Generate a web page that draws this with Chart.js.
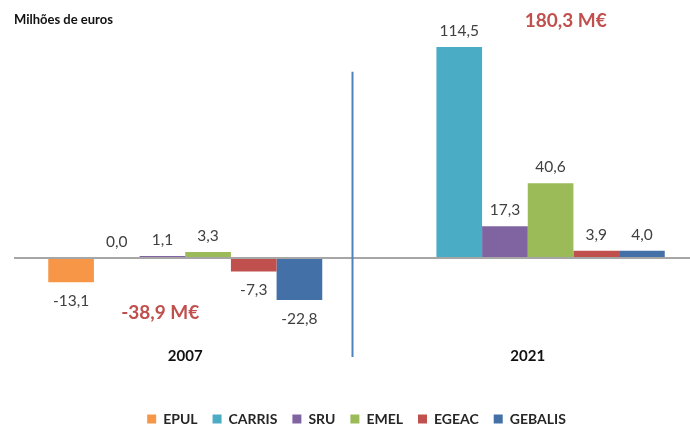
<!DOCTYPE html>
<html>
<head>
<meta charset="utf-8">
<script src="https://cdn.jsdelivr.net/npm/chart.js@4/dist/chart.umd.min.js"></script>
<style>
    html, body { margin: 0; padding: 0; background: #fff; overflow: hidden; }
</style>
</head>
<body>
<canvas id="resultChart" width="700" height="430"></canvas>
<script>
// Data (milhões de euros)
const years = ['2007', '2021'];
const companies = ['EPUL', 'CARRIS', 'SRU', 'EMEL', 'EGEAC', 'GEBALIS'];
const epul = [-13.1, null];
const carris = [0.0, 114.5];
const sru = [1.1, 17.3];
const emel = [3.3, 40.6];
const egeac = [-7.3, 3.9];
const gebalis = [-22.8, 4.0];
const totals = ['-38,9 M€', '180,3 M€'];
const colors = ['#f79646', '#4bacc6', '#8064a2', '#9bbb59', '#c0504d', '#4470a8'];

const FONT = 'Lato, "Open Sans", sans-serif';

// value labels, separator line and totals
const annotations = {
    id: 'annotations',
    afterDatasetsDraw(chart) {
        const ctx = chart.ctx;
        ctx.save();
        ctx.font = '15.5px ' + FONT;
        ctx.fillStyle = '#404040';
        ctx.textAlign = 'center';
        ctx.textBaseline = 'middle';
        chart.data.datasets.forEach((ds, i) => {
            chart.getDatasetMeta(i).data.forEach((bar, j) => {
                const v = ds.data[j];
                if (v === null) return;
                const y = v < 0 ? bar.y + 19 : bar.y - 16;
                ctx.fillText(v.toFixed(1).replace('.', ','), bar.x, y);
            });
        });
        ctx.restore();
    },
    afterDraw(chart) {
        const ctx = chart.ctx;
        const xs = chart.scales.x;
        const ys = chart.scales.y;
        ctx.save();

        // separator between the two years
        const mid = (xs.getPixelForValue(0) + xs.getPixelForValue(1)) / 2 - 4;
        ctx.strokeStyle = '#4f81bd';
        ctx.lineWidth = 2;
        ctx.beginPath();
        ctx.moveTo(mid, ys.getPixelForValue(101));
        ctx.lineTo(mid, chart.chartArea.bottom + 16);
        ctx.stroke();

        // totals
        ctx.font = 'bold 19px ' + FONT;
        ctx.fillStyle = '#c0504d';
        ctx.textAlign = 'center';
        ctx.textBaseline = 'middle';
        ctx.fillText(totals[0], xs.getPixelForValue(0) - 25, ys.getPixelForValue(-30));
        ctx.fillText(totals[1], xs.getPixelForValue(1) + 38, ys.getPixelForValue(128.5));
        ctx.restore();
    }
};

const series = [epul, carris, sru, emel, egeac, gebalis];

new Chart(document.getElementById('resultChart'), {
    type: 'bar',
    data: {
        labels: years,
        datasets: companies.map((name, i) => ({
            label: name,
            data: series[i],
            backgroundColor: colors[i],
            borderWidth: 0,
            categoryPercentage: 0.8,
            barPercentage: 1.0
        }))
    },
    options: {
        responsive: false,
        animation: false,
        devicePixelRatio: 1,
        layout: {
            padding: { left: 14, right: 1, top: 0, bottom: -6 }
        },
        scales: {
            x: {
                grid: { display: false, drawTicks: false },
                border: { display: false },
                ticks: {
                    padding: 6,
                    color: '#111',
                    font: { family: FONT, size: 15, weight: 'bold' }
                },
                afterFit(scale) {
                    scale.height += 26;
                }
            },
            y: {
                min: -45,
                max: 125,
                border: { display: false },
                ticks: { display: false, stepSize: 5 },
                grid: {
                    drawTicks: false,
                    lineWidth: 2,
                    color: (c) => c.tick && c.tick.value === 0 ? '#a6a6a6' : 'rgba(0,0,0,0)'
                }
            }
        },
        plugins: {
            tooltip: { enabled: false },
            title: {
                display: true,
                text: 'Milhões de euros',
                align: 'start',
                color: '#111',
                font: { family: FONT, size: 13, weight: 'bold' },
                padding: { top: 12, bottom: 0 }
            },
            legend: {
                position: 'bottom',
                labels: {
                    boxWidth: 9,
                    boxHeight: 9,
                    padding: 15,
                    color: '#262626',
                    font: { family: FONT, size: 14, weight: 'bold' }
                }
            }
        }
    },
    plugins: [annotations]
});
</script>
</body>
</html>
